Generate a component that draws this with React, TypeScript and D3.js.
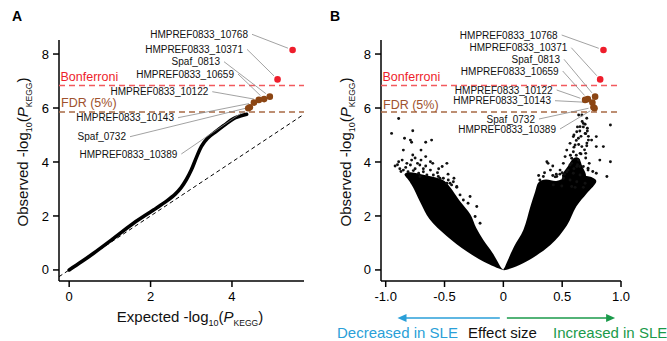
import React from 'react'
import * as d3 from 'd3'

// ── data ────────────────────────────────────────────────────────────────
const qqExpected = [0, 0.3, 0.6, 1.09, 1.58, 2.07, 2.4, 2.6, 2.75, 2.88, 3.0, 3.13, 3.25, 3.4, 3.6, 3.8, 4.03, 4.2, 4.36]
const qqObserved = [0, 0.3, 0.62, 1.17, 1.73, 2.22, 2.56, 2.8, 3.05, 3.35, 3.7, 4.18, 4.58, 4.88, 5.12, 5.35, 5.6, 5.7, 5.77]

// significant genes
const geneNames = [
  'HMPREF0833_10768', 'HMPREF0833_10371', 'Spaf_0813', 'HMPREF0833_10659',
  'HMPREF0833_10122', 'HMPREF0833_10143', 'Spaf_0732', 'HMPREF0833_10389',
]
const geneExpected = [5.49, 5.12, 4.93, 4.79, 4.66, 4.54, 4.44, 4.4]
const geneObserved = [8.15, 7.06, 6.42, 6.33, 6.3, 6.2, 6.03, 5.99]
const geneEffect = [0.851, 0.823, 0.78, 0.718, 0.695, 0.757, 0.766, 0.775]

const bonferroni = 6.83
const fdr = 5.85

const yTicks = [0, 2, 4, 6, 8]
const xTicksA = [0, 2, 4]
const xTicksB = [-1, -0.5, 0, 0.5, 1]
const xTickLabelsB = ['-1.0', '-0.5', '0', '0.5', '1.0']

// volcano: outline of the dense wings (effect, -log10 P)
const leftWing: [number, number][] = [
  [0, 0], [-0.14, 0.25], [-0.31, 0.68], [-0.48, 1.25], [-0.63, 1.9], [-0.7, 2.45], [-0.76, 3.0],
  [-0.8, 3.3], [-0.84, 3.55], [-0.8, 3.62], [-0.7, 3.55], [-0.6, 3.45], [-0.5, 3.3],
  [-0.45, 3.05], [-0.37, 2.55], [-0.28, 2.05], [-0.23, 1.55], [-0.17, 1.11], [-0.09, 0.62], [-0.015, 0.06],
]
const rightWing: [number, number][] = [
  [0, 0], [0.014, 0.12], [0.09, 0.86], [0.17, 1.48], [0.23, 2.35], [0.27, 2.9], [0.3, 3.25],
  [0.36, 3.35], [0.45, 3.3], [0.55, 3.45], [0.65, 3.5], [0.74, 3.45], [0.79, 3.3],
  [0.71, 2.84], [0.62, 2.35], [0.54, 1.65], [0.4, 0.92], [0.2, 0.32], [0.08, 0.08],
]
const rightSpike: [number, number][] = [
  [0.5, 3.45], [0.55, 3.85], [0.6, 4.15], [0.64, 4.15], [0.67, 3.85], [0.7, 3.45],
]

// volcano: individual points outside the dense mass
const looseEffect = [
  // left upper cluster
  -0.89, -0.95, -0.77, -0.84, -0.79, -0.78, -0.66, -0.61, -0.85, -0.77, -0.7, -0.86, -0.78, -0.7, -0.62,
  -0.6, -0.48, -0.89, -0.52, -0.79, -0.71, -0.85, -0.81, -0.765, -0.72, -0.68, -0.65, -0.595, -0.553,
  -0.51, -0.468, -0.425, -0.708, -0.539, -0.48, -0.44, -0.396, -0.92, -0.88,
  -0.83, -0.75, -0.68, -0.62, -0.56, -0.66, -0.73, -0.82, -0.9, -0.87, -0.75, -0.66, -0.55, -0.47, -0.42,
  // left inner edge
  -0.368, -0.34, -0.3, -0.226, -0.24, -0.198, -0.396, -0.453, -0.283,
  // right spike
  0.667, 0.709, 0.68, 0.652, 0.714, 0.624, 0.695, 0.595, 0.638, 0.723, 0.567, 0.61, 0.667, 0.539, 0.595,
  0.652, 0.525, 0.581, 0.638, 0.51, 0.567, 0.624, 0.68, 0.482, 0.539, 0.595, 0.652, 0.454, 0.51, 0.567,
  0.624, 0.695, 0.425, 0.497, 0.581, 0.61, 0.68, 0.709, 0.723, 0.714, 0.695,
  0.6, 0.63, 0.58, 0.62, 0.66, 0.57, 0.6, 0.64, 0.62, 0.66, 0.6, 0.65, 0.68, 0.63, 0.67, 0.7, 0.71, 0.69,
  0.7, 0.73, 0.55, 0.52, 0.48, 0.44, 0.72, 0.76, 0.35, 0.4, 0.3, 0.42,
  // right scattered
  0.91, 0.85, 0.82, 0.91, 0.75, 0.79, 0.7, 0.37, 0.34, 0.31, 0.88, 0.79, 0.72, 0.65, 0.38, 0.64,
  0.79, 0.45, 0.5, 0.42,
]
const looseLogP = [
  5.61, 5.06, 5.16, 4.88, 4.81, 4.73, 4.73, 4.81, 4.44, 4.26, 4.44, 4.07, 4.07, 4.07, 4.01,
  3.95, 3.95, 4.01, 3.83, 3.89, 3.89, 3.7, 3.64, 3.68, 3.58, 3.64, 3.52, 3.52, 3.46,
  3.4, 3.33, 3.27, 3.46, 3.4, 3.21, 3.15, 3.06, 3.85, 3.75,
  3.8, 3.75, 3.75, 3.7, 3.6, 3.85, 3.95, 3.95, 3.9, 3.65, 4.15, 4.2, 3.75, 3.55, 3.4,
  2.78, 2.59, 2.47, 2.35, 1.98, 1.73, 3.09, 3.21, 2.72,
  5.74, 5.62, 5.43, 5.31, 5.25, 5.12, 5.06, 4.94, 4.88, 4.81, 4.69, 4.63, 4.57, 4.44, 4.38,
  4.32, 4.2, 4.14, 4.07, 3.95, 3.89, 3.83, 3.83, 3.7, 3.64, 3.58, 3.52, 3.46, 3.4, 3.33,
  3.27, 3.21, 3.15, 3.11, 3.09, 3.06, 3.06, 4.6, 4.95, 5.15, 5.4,
  3.75, 3.9, 3.95, 4.25, 4.3, 4.25, 4.55, 4.65, 4.8, 4.95, 5.0, 5.15, 5.3, 5.3, 5.5, 5.05, 4.7, 4.45,
  4.15, 3.95, 3.7, 3.55, 3.55, 3.45, 3.7, 3.65, 3.6, 3.7, 3.5, 3.85,
  5.37, 4.57, 4.07, 4.01, 4.81, 4.94, 4.32, 4.01, 3.46, 3.33, 3.46, 3.58, 3.77, 3.83, 3.95, 5.74,
  4.57, 3.55, 3.6, 3.5,
]

// ── layout ──────────────────────────────────────────────────────────────
const FONT = 'Liberation Sans, Arial, Helvetica, sans-serif'
const RED = '#ee1d2b'
const RED_LINE = '#f25a5e'
const BROWN = '#8b4513'
const BROWN_LINE = '#a86a44'
const BROWN_TEXT = '#a0522d'
const BLUE = '#2a9fd8'
const GREEN = '#1a9a4a'

// label anchor (right edge, vertical centre) in px
const labelPosA = [
  [248, 34.3], [243, 49.3], [220, 61.7], [234, 74], [208.3, 91.7], [174, 117.7], [126, 136.7], [177.3, 154],
]
const labelPosB = [
  [557.7, 35], [567.3, 47.7], [560, 59.3], [558.7, 71], [552.7, 90], [551, 100.7], [535, 119], [556, 129],
]

const y = d3.scaleLinear().domain([-0.41, 8.52]).range([281, 40])
const xA = d3.scaleLinear().domain([-0.25, 5.77]).range([59, 304])
const xB = d3.scaleLinear().domain([-1.04, 1.0]).range([381, 621])

function YTitle({ x, cy }: { x: number; cy: number }) {
  return (
    <text transform={`translate(${x},${cy}) rotate(-90)`} textAnchor="middle" fontSize={15} fill="#111">
      Observed -log<tspan fontSize={9} dy={4}>10</tspan>
      <tspan dy={-4}>(</tspan><tspan fontStyle="italic">P</tspan>
      <tspan fontSize={8.5} dy={4}>KEGG</tspan><tspan dy={-4}>)</tspan>
    </text>
  )
}

function YAxis({ x0 }: { x0: number }) {
  return (
    <g>
      <line x1={x0} x2={x0} y1={y.range()[1]} y2={y.range()[0]} stroke="#000" strokeWidth={1.5} />
      {yTicks.map(t => (
        <g key={t}>
          <line x1={x0 - 6} x2={x0} y1={y(t)} y2={y(t)} stroke="#000" strokeWidth={1.5} />
          <text x={x0 - 10} y={y(t)} dy="0.35em" textAnchor="end" fontSize={13}>{t}</text>
        </g>
      ))}
    </g>
  )
}

function XAxis({ scale, ticks, labels }: { scale: d3.ScaleLinear<number, number>; ticks: number[]; labels: string[] }) {
  const [a, b] = scale.range()
  const y0 = y.range()[0]
  return (
    <g>
      <line x1={a} x2={b} y1={y0} y2={y0} stroke="#000" strokeWidth={1.5} />
      {ticks.map((t, i) => (
        <g key={t}>
          <line x1={scale(t)} x2={scale(t)} y1={y0} y2={y0 + 6} stroke="#000" strokeWidth={1.5} />
          <text x={scale(t)} y={300.5} textAnchor="middle" fontSize={13}>{labels[i]}</text>
        </g>
      ))}
    </g>
  )
}

function Thresholds({ scale, x0, x1, bonfY, fdrY }: { scale: d3.ScaleLinear<number, number>; x0: number; x1: number; bonfY: number; fdrY: number }) {
  return (
    <g>
      <line x1={scale(x0)} x2={scale(x1)} y1={y(bonferroni)} y2={y(bonferroni)} stroke={RED_LINE} strokeWidth={1.5} strokeDasharray="6,4" />
      <line x1={scale(x0)} x2={scale(x1)} y1={y(fdr)} y2={y(fdr)} stroke={BROWN_LINE} strokeWidth={1.5} strokeDasharray="6,4" />
      <text x={scale.range()[0] + 1.5} y={bonfY} fontSize={12.5} fill={RED}>Bonferroni</text>
      <text x={scale.range()[0] + 2} y={fdrY} fontSize={12.5} fill={BROWN_TEXT}>FDR (5%)</text>
    </g>
  )
}

function GeneLabels({ px, pos }: { px: (i: number) => number; pos: number[][] }) {
  return (
    <g>
      {geneNames.map((name, i) => {
        const [tx, ty] = pos[i]
        const sx = tx + 4
        const ex = px(i)
        const ey = y(geneObserved[i])
        const len = Math.hypot(ex - sx, ey - ty)
        const k = (len - 5) / len
        return (
          <g key={name}>
            <line x1={sx} y1={ty} x2={sx + (ex - sx) * k} y2={ty + (ey - ty) * k} stroke="#8a8a8a" strokeWidth={0.8} />
            <text x={tx} y={ty} dy="0.35em" textAnchor="end" fontSize={10} fill="#111">{name}</text>
          </g>
        )
      })}
      {geneNames.map((name, i) => (
        <circle key={name} cx={px(i)} cy={y(geneObserved[i])} r={3.3}
          fill={geneObserved[i] > bonferroni ? RED : BROWN} />
      ))}
    </g>
  )
}

function PanelA() {
  const line = d3.line<number>().x(i => xA(qqExpected[i])).y(i => y(qqObserved[i])).curve(d3.curveCatmullRom.alpha(0.5))
  const idx = qqExpected.map((_, i) => i)
  return (
    <g>
      <text x={12} y={21} fontSize={14} fontWeight="bold">A</text>
      <YAxis x0={59} />
      <XAxis scale={xA} ticks={xTicksA} labels={xTicksA.map(String)} />
      <line x1={xA(-0.25)} y1={y(-0.25)} x2={xA(5.77)} y2={y(5.77)} stroke="#000" strokeWidth={1} strokeDasharray="4,3" />
      <Thresholds scale={xA} x0={-0.25} x1={5.77} bonfY={80.5} fdrY={107} />
      <path d={line(idx) || ''} fill="none" stroke="#000" strokeWidth={3.6} strokeLinecap="round" />
      <GeneLabels px={i => xA(geneExpected[i])} pos={labelPosA} />
      <YTitle x={28} cy={152} />
      <text x={190} y={322} textAnchor="middle" fontSize={15} fill="#111">
        Expected -log<tspan fontSize={9} dy={4}>10</tspan>
        <tspan dy={-4}>(</tspan><tspan fontStyle="italic">P</tspan>
        <tspan fontSize={8.5} dy={4}>KEGG</tspan><tspan dy={-4}>)</tspan>
      </text>
    </g>
  )
}

function PanelB() {
  const poly = d3.line<[number, number]>().x(d => xB(d[0])).y(d => y(d[1])).curve(d3.curveCatmullRomClosed.alpha(0.5))
  const ay = 318
  return (
    <g>
      <text x={330} y={21} fontSize={14} fontWeight="bold">B</text>
      <YAxis x0={381} />
      <XAxis scale={xB} ticks={xTicksB} labels={xTickLabelsB} />
      <Thresholds scale={xB} x0={-1.04} x1={0.97} bonfY={81} fdrY={108.5} />
      <path d={poly(leftWing) || ''} fill="#000" />
      <path d={poly(rightWing) || ''} fill="#000" />
      <path d={poly(rightSpike) || ''} fill="#000" />
      {looseEffect.map((e, i) => (
        <circle key={i} cx={xB(e)} cy={y(looseLogP[i])} r={1.45} fill="#111" />
      ))}
      <GeneLabels px={i => xB(geneEffect[i])} pos={labelPosB} />
      <YTitle x={351} cy={152} />
      {/* direction arrows */}
      <line x1={xB(-0.03)} x2={xB(-0.9) + 6} y1={ay} y2={ay} stroke={BLUE} strokeWidth={1.5} />
      <path d={`M${xB(-0.9)},${ay} l9,-4 l0,8 z`} fill={BLUE} />
      <line x1={xB(0.03)} x2={xB(0.95) - 6} y1={ay} y2={ay} stroke={GREEN} strokeWidth={1.5} />
      <path d={`M${xB(0.95)},${ay} l-9,-4 l0,8 z`} fill={GREEN} />
      <text x={337} y={338} fontSize={15} fill={BLUE}>Decreased in SLE</text>
      <text x={502.5} y={338} textAnchor="middle" fontSize={15} fill="#111">Effect size</text>
      <text x={553} y={338} fontSize={15} fill={GREEN}>Increased in SLE</text>
    </g>
  )
}

export default function App() {
  return (
    <svg width={667} height={341} style={{ position: 'absolute', left: 0, top: 0, background: '#fff' }}
      fontFamily={FONT}>
      <PanelA />
      <PanelB />
    </svg>
  )
}
